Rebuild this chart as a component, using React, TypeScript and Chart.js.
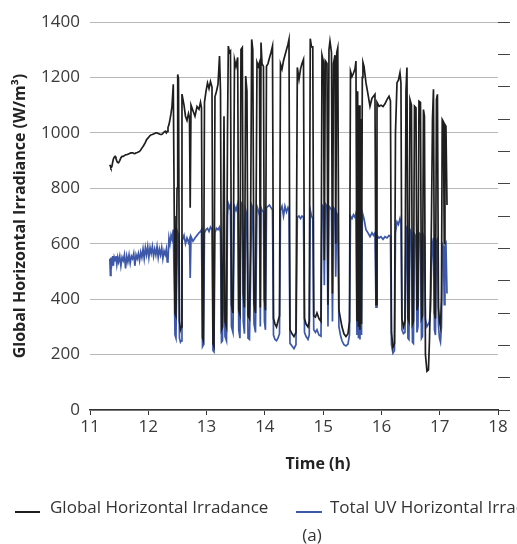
import React, { useEffect, useRef } from "react";
import { Chart, registerables } from "chart.js";

Chart.register(...registerables);

const FONT = "'Open Sans', 'Noto Sans', sans-serif";

// Time of day (h)
const hours = [
  11.34, 11.35, 11.36, 11.375, 11.39, 11.40, 11.415, 11.43, 11.445, 11.46,
  11.475, 11.49, 11.51, 11.53, 11.55, 11.57, 11.59, 11.61, 11.63, 11.65,
  11.67, 11.69, 11.71, 11.73, 11.75, 11.77, 11.79, 11.81, 11.83, 11.85,
  11.87, 11.89, 11.91, 11.93, 11.95, 11.97, 11.99, 12.01, 12.03, 12.05,
  12.07, 12.09, 12.11, 12.13, 12.15, 12.17, 12.19, 12.21, 12.23, 12.25,
  12.27, 12.29, 12.31, 12.325,
  12.338, 12.355, 12.372, 12.390, 12.407, 12.429, 12.446, 12.458, 12.475, 12.493,
  12.505, 12.518, 12.535, 12.552, 12.566, 12.578, 12.613, 12.638, 12.664, 12.690,
  12.707, 12.719, 12.733, 12.767, 12.801, 12.836, 12.870, 12.896, 12.913, 12.930,
  12.947, 12.964, 12.990, 13.016, 13.042, 13.067, 13.093, 13.110, 13.127, 13.144,
  13.170, 13.196, 13.222, 13.239, 13.256, 13.273, 13.299, 13.316, 13.342, 13.359,
  13.373, 13.393, 13.410, 13.427, 13.453, 13.479, 13.505, 13.534, 13.552, 13.573,
  13.590, 13.613, 13.630, 13.650, 13.671, 13.693, 13.711, 13.736, 13.753, 13.774,
  13.793, 13.814, 13.839, 13.865, 13.887, 13.908, 13.922, 13.934, 13.951, 13.976,
  13.993, 14.010, 14.028, 14.054, 14.079, 14.105, 14.131, 14.148, 14.174, 14.200,
  14.225, 14.251, 14.268, 14.294, 14.320, 14.345, 14.371, 14.397, 14.414, 14.431,
  14.466, 14.500, 14.534, 14.557, 14.586, 14.612, 14.637, 14.663, 14.680, 14.706,
  14.740, 14.762, 14.779, 14.800, 14.822, 14.839, 14.868, 14.894, 14.928, 14.963,
  14.980, 15.006, 15.020, 15.037, 15.066, 15.083, 15.100, 15.117, 15.143, 15.160,
  15.177, 15.203, 15.216, 15.233, 15.251, 15.271, 15.297, 15.323, 15.357, 15.392,
  15.426, 15.452, 15.469, 15.495, 15.520, 15.546, 15.563, 15.580, 15.592, 15.606,
  15.620, 15.632, 15.646, 15.658, 15.672, 15.683, 15.701, 15.735, 15.769, 15.804,
  15.838, 15.864, 15.889, 15.907, 15.924, 15.958, 15.992, 16.027, 16.061, 16.095,
  16.130, 16.155, 16.172, 16.198, 16.224, 16.241, 16.267, 16.292, 16.318, 16.335,
  16.352, 16.378, 16.404, 16.421, 16.438, 16.455, 16.472, 16.490, 16.515, 16.532,
  16.549, 16.567, 16.593, 16.610, 16.627, 16.644, 16.670, 16.687, 16.704, 16.721,
  16.738, 16.755, 16.781, 16.807, 16.824, 16.842, 16.859, 16.876, 16.893, 16.910,
  16.927, 16.944, 16.961, 16.979, 16.996, 17.013, 17.030, 17.043, 17.064, 17.078,
  17.090, 17.107, 17.125,
];

// Global Horizontal Irradiance (left axis)
const globalIrr = [
  885, 880, 874, 878, 895, 905, 912, 915, 908, 898,
  893, 892, 900, 910, 915, 915, 918, 921, 921, 923,
  925, 927, 928, 928, 926, 925, 928, 929, 931, 933,
  938, 945, 951, 958, 966, 975, 980, 985, 990, 993,
  994, 996, 998, 1000, 1000, 998, 996, 994, 994, 998,
  1003, 1006, 1000, 1005,
  1019, 1030, 1048, 1070, 1096, 1175, 700, 350, 340, 800,
  1211, 1195, 320, 290, 300, 1140, 1100, 1060, 1045, 1070,
  1055, 730, 1100, 1080, 1060, 1095, 1085, 1110, 1090, 260,
  250, 1110, 1150, 1180, 1160, 1185, 1165, 240, 230, 1130,
  1150, 1175, 1277, 1150, 290, 300, 1060, 320, 300, 1000,
  1313, 1290, 1295, 380, 350, 1265, 1240, 1272, 360, 345,
  1301, 1308, 420, 370, 1205, 1150, 340, 330, 600, 1337,
  1300, 385, 350, 1254, 1240, 1254, 370, 1326, 1250, 1240,
  400, 360, 1240, 1250, 1270, 1290, 1313, 330, 310, 300,
  320, 340, 1248, 1230, 1260, 1280, 1300, 1320, 1337, 290,
  275, 265, 280, 1236, 1193, 1230, 1250, 1265, 330, 310,
  300, 320, 1340, 1310, 1310, 340, 335, 350, 330, 320,
  1280, 1255, 540, 1260, 1250, 380, 1300, 1331, 1290, 420,
  1250, 1280, 600, 1290, 1307, 360, 330, 300, 275, 265,
  275, 320, 1222, 1203, 1215, 1230, 1259, 320, 1150, 300,
  1100, 290, 1050, 310, 1200, 1254, 1240, 1180, 1140, 1096,
  1125, 1132, 1139, 380, 1110, 1096, 1100, 1095, 1105, 1120,
  1132, 1115, 280, 225, 240, 1000, 1181, 1190, 1217, 1180,
  330, 300, 320, 1150, 1236, 330, 320, 1120, 1100, 310,
  320, 1096, 1090, 360, 380, 1114, 1110, 330, 340, 1084,
  1060, 200, 140, 145, 250, 420, 700, 1050, 1157, 350,
  330, 1120, 1139, 370, 320, 300, 400, 1048, 1040, 600,
  1030, 1024, 740,
];

// Total UV Horizontal Irradiance (right axis)
const uvIrr = [
  23.4, 20.8, 23.6, 22.7, 23.8, 22.3, 23.6, 23.1, 23.8, 22.5,
  23.6, 22.9, 23.8, 22.3, 23.6, 23.1, 24.0, 21.9, 23.8, 22.9,
  24.0, 22.7, 23.8, 23.4, 24.2, 22.3, 24.0, 23.4, 24.2, 23.1,
  24.4, 23.6, 24.9, 23.4, 25.1, 24.0, 25.3, 23.6, 25.1, 24.2,
  25.3, 23.8, 24.9, 24.0, 25.3, 23.6, 24.9, 24.0, 25.1, 23.4,
  24.6, 24.0, 24.9, 22.9,
  23.1, 26.6, 25.7, 27.0, 26.4, 27.9, 19.3, 11.6, 11.1, 24.0,
  27.4, 27.0, 11.1, 10.5, 10.7, 26.1, 27.0, 25.7, 26.6, 25.9,
  26.4, 20.4, 26.8, 26.1, 26.6, 27.0, 27.4, 27.6, 27.9, 9.8,
  10.1, 27.4, 27.9, 28.1, 27.6, 28.3, 27.9, 9.2, 9.0, 27.4,
  28.1, 27.9, 28.3, 27.4, 10.5, 10.7, 25.7, 11.4, 10.7, 30.0,
  31.9, 31.3, 31.7, 12.9, 12.0, 31.5, 30.9, 31.9, 12.4, 11.1,
  32.1, 31.7, 13.7, 11.8, 30.9, 30.0, 11.1, 10.9, 19.3, 31.7,
  31.3, 13.3, 12.0, 31.5, 30.9, 30.0, 12.9, 31.3, 30.9, 30.6,
  13.7, 12.4, 31.3, 31.5, 31.7, 31.3, 30.9, 11.6, 10.9, 10.7,
  11.1, 11.8, 30.9, 31.5, 30.0, 31.5, 30.6, 31.3, 30.9, 10.3,
  9.9, 9.5, 10.1, 29.8, 30.0, 29.6, 30.0, 29.8, 12.0, 11.4,
  10.9, 11.6, 30.9, 30.0, 29.6, 12.4, 12.0, 12.4, 11.6, 11.4,
  31.7, 31.3, 19.3, 31.9, 31.5, 12.9, 31.5, 31.3, 30.9, 13.7,
  31.3, 30.9, 20.6, 30.4, 30.0, 12.9, 11.6, 10.7, 10.1, 9.9,
  10.2, 11.6, 30.0, 29.6, 30.2, 29.8, 30.4, 11.6, 29.6, 11.1,
  28.3, 10.9, 27.9, 11.6, 30.0, 30.2, 29.6, 27.9, 27.4, 26.8,
  27.4, 27.0, 27.4, 15.9, 27.0, 26.6, 26.8, 26.4, 26.8, 26.6,
  27.0, 26.8, 10.1, 8.8, 9.2, 27.4, 29.1, 28.7, 29.6, 28.9,
  12.4, 11.8, 12.0, 27.9, 28.3, 11.1, 10.9, 27.9, 27.4, 10.5,
  10.3, 27.2, 26.8, 12.0, 12.9, 27.4, 27.2, 11.1, 11.4, 27.0,
  26.6, 14.1, 12.9, 13.3, 13.7, 15.4, 22.3, 25.7, 26.6, 12.4,
  11.6, 26.1, 26.4, 12.9, 11.1, 10.5, 12.9, 25.7, 25.3, 16.3,
  25.3, 25.7, 18.0,
];

const seriesNames = ["Global Horizontal Irradance", "Total UV Horizontal Irradiance"];
const seriesColors = ["#1e1e1e", "#3d58a8"];
const yTitle = "Global Horizontal Irradiance (W/m³)";
const xTitle = "Time (h)";
const caption = "(a)";

export default function App() {
  const ref = useRef<HTMLCanvasElement>(null);

  useEffect(() => {
    if (!ref.current) return;
    const chart = new Chart(ref.current, {
      type: "line",
      data: {
        datasets: [
          {
            label: seriesNames[0],
            data: hours.map((h, i) => ({ x: h, y: globalIrr[i] })),
            borderColor: seriesColors[0],
            borderWidth: 1.7,
            pointRadius: 0,
            tension: 0,
            yAxisID: "y",
            order: 0,
          },
          {
            label: seriesNames[1],
            data: hours.map((h, i) => ({ x: h, y: uvIrr[i] })),
            borderColor: seriesColors[1],
            borderWidth: 1.7,
            pointRadius: 0,
            tension: 0,
            yAxisID: "y1",
            order: 1,
          },
        ],
      },
      options: {
        responsive: false,
        animation: false,
        devicePixelRatio: 1,
        layout: { padding: { top: 22, left: 0, right: 0, bottom: 0 } },
        plugins: { legend: { display: false }, tooltip: { enabled: false } },
        scales: {
          x: {
            type: "linear",
            min: 11,
            max: 18,
            afterFit: (s: any) => {
              s.height = 134;
            },
            ticks: {
              stepSize: 1,
              color: "#3a3a3a",
              font: { family: FONT, size: 17 },
              padding: 2,
              maxRotation: 0,
              autoSkip: false,
              callback: (v: any) => String(v),
            },
            grid: { drawOnChartArea: false, drawTicks: true, tickLength: 5, color: "#333" },
            border: { display: true, color: "#333", width: 1.5 },
          },
          y: {
            position: "left",
            min: 0,
            max: 1400,
            afterFit: (s: any) => {
              s.width = 90;
            },
            ticks: {
              stepSize: 200,
              color: "#3a3a3a",
              font: { family: FONT, size: 17 },
              padding: 10,
              callback: (v: any) => String(v),
            },
            grid: { color: "#b8b8b8", lineWidth: 1, drawTicks: false },
            border: { display: false },
            title: {
              display: true,
              text: yTitle,
              color: "#222",
              font: { family: FONT, size: 16, weight: "bold" },
              padding: { top: 11, bottom: 0 },
            },
          },
          y1: {
            position: "right",
            min: 0,
            max: 60,
            afterFit: (s: any) => {
              s.width = 19;
            },
            ticks: { stepSize: 5, display: false },
            grid: { drawOnChartArea: false, drawTicks: true, tickLength: 12, color: "#444" },
            border: { display: false },
          },
        },
      },
    } as any);
    return () => chart.destroy();
  }, []);

  const text: React.CSSProperties = {
    position: "absolute",
    fontFamily: FONT,
    fontSize: 17,
    color: "#333",
    whiteSpace: "nowrap",
    lineHeight: "20px",
  };

  return (
    <div style={{ position: "absolute", left: 0, top: 0, width: 517, height: 544, overflow: "hidden", background: "#fff" }}>
      <canvas ref={ref} width={517} height={544} style={{ display: "block", width: 517, height: 544 }} />
      <div style={{ ...text, left: 318, top: 453, transform: "translateX(-50%)", fontWeight: "bold", fontSize: 16, color: "#222" }}>
        {xTitle}
      </div>
      <div style={{ position: "absolute", left: 15, top: 511, width: 25, height: 2, background: seriesColors[0] }} />
      <div style={{ ...text, left: 50, top: 497 }}>{seriesNames[0]}</div>
      <div style={{ position: "absolute", left: 296, top: 511, width: 26, height: 2, background: seriesColors[1] }} />
      <div style={{ ...text, left: 330, top: 497 }}>{seriesNames[1]}</div>
      <div style={{ ...text, left: 312, top: 525, transform: "translateX(-50%)" }}>{caption}</div>
    </div>
  );
}
